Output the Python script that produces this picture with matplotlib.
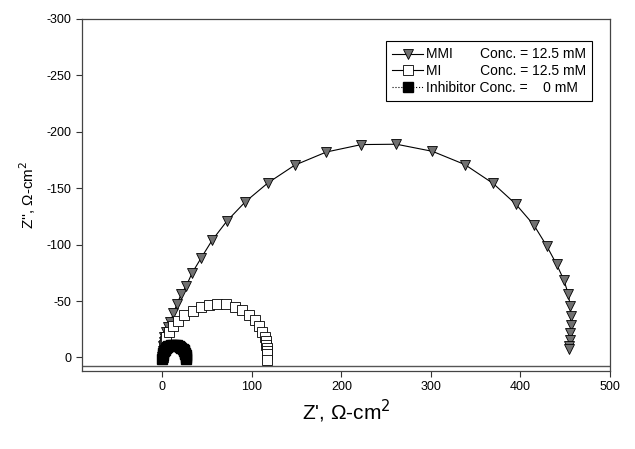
import numpy as np
import matplotlib
matplotlib.use('Agg')
import matplotlib.pyplot as plt

plt.rcParams['font.family'] = ['Liberation Sans', 'DejaVu Sans']
plt.rcParams['axes.unicode_minus'] = False

# MMI, 12.5 mM
mmi_x = [0, 0.1, 0.3, 0.7, 1.3, 2.2, 4.5, 6.7, 8.9, 12.3, 16.0, 20.9, 26.5, 33.2, 43.3, 55.6,
         71.9, 92.5, 117.8, 147.7, 183.1, 222.3, 261.4, 301.7, 337.8, 369.5, 394.9, 415.0,
         429.2, 440.4, 448.5, 453.4, 455.5, 456.2, 456.3, 455.8, 455.2, 454.6, 454.3]
mmi_y = [0, -3, -6, -10, -14, -18.4, -22.8, -26.7, -31.7, -39.0, -47.0, -55.9, -63.3, -75.0,
         -88.3, -104.0, -120.8, -137.9, -154.7, -170.4, -182.1, -188.7, -189.0, -182.7, -171.0,
         -154.2, -135.8, -117.3, -99.0, -82.5, -68.6, -56.2, -46.0, -37.0, -29.0, -22.0, -15.5,
         -10.5, -7.5]

# MI, 12.5 mM
mi_x = [0.5, 1.0, 1.5, 2.2, 3.0, 4.1, 7.8, 11.5, 17.1, 24.6, 33.9, 42.5, 51.8, 61.2, 70.5,
        80.5, 89.1, 96.5, 102.9, 107.7, 111.5, 114.1, 115.2, 116.0, 116.5, 116.7, 116.7, 116.7]
mi_y = [0, -3, -7, -11, -15, -18.4, -22.8, -27.9, -32.6, -37.6, -41.4, -44.4, -46.5, -47.3,
        -47.1, -45.0, -42.1, -37.6, -33.2, -27.9, -22.8, -18.4, -14.6, -11.1, -8.5, -5.5,
        -3.0, 2.0]

# blank, 0 mM
inh_x = [0, 0.3, 0.8, 1.5, 2.5, 3.5, 5.0, 6.5, 8.0, 10.0, 12.0, 14.0, 16.0, 18.0, 19.5,
         21.0, 22.5, 23.5, 24.5, 25.2, 25.7, 26.0, 26.2, 26.3]
inh_y = [1.5, -2, -4, -5.5, -7, -8, -9, -9.8, -10.3, -10.7, -10.9, -10.9, -10.7, -10.2, -9.6,
         -8.8, -7.8, -6.8, -5.6, -4.3, -3.0, -1.8, -0.8, 1.0]

labels = ['MMI       Conc. = 12.5 mM',
          'MI          Conc. = 12.5 mM',
          'Inhibitor Conc. =    0 mM']

fig = plt.figure(figsize=(6.35, 4.49), dpi=100)
ax = fig.add_axes([0.129, 0.1737, 0.8316, 0.784])

ax.axhline(7.5, color='#555555', linewidth=1.0, zorder=1)

ax.plot(mmi_x, mmi_y, '-', color='black', linewidth=0.8, marker='v', markersize=7.5,
        markerfacecolor='#707070', markeredgecolor='black', markeredgewidth=0.6,
        label=labels[0], zorder=3)
ax.plot(mi_x, mi_y, '-', color='black', linewidth=0.8, marker='s', markersize=6.5,
        markerfacecolor='white', markeredgecolor='black', markeredgewidth=0.6,
        label=labels[1], zorder=4)
ax.plot(inh_x, inh_y, ':', color='black', linewidth=0.8, marker='s', markersize=6.5,
        markerfacecolor='black', markeredgecolor='black',
        label=labels[2], zorder=5)

ax.set_xlim(-90, 500)
ax.set_ylim(12, -300)
ax.set_xticks(np.arange(0, 501, 100))
ax.set_yticks(np.arange(-300, 1, 50))
ax.tick_params(direction='out', length=4, width=0.8, labelsize=9, colors='#333333',
               labelcolor='black')
for s in ax.spines.values():
    s.set_color('#444444')
    s.set_linewidth(0.9)

ax.set_xlabel("Z', \u03a9-cm$^2$", fontsize=15, labelpad=3)
ax.set_ylabel("Z'', \u03a9-cm$^2$", fontsize=11, labelpad=6)

leg = ax.legend(loc='upper left', bbox_to_anchor=(0.576, 0.937), borderaxespad=0,
                fontsize=10, frameon=True, fancybox=False, edgecolor='black', framealpha=1,
                handlelength=2.2, borderpad=0.45, labelspacing=0.2, handletextpad=0.2)
leg.get_frame().set_linewidth(0.8)

fig.savefig('out.png', dpi=100)
